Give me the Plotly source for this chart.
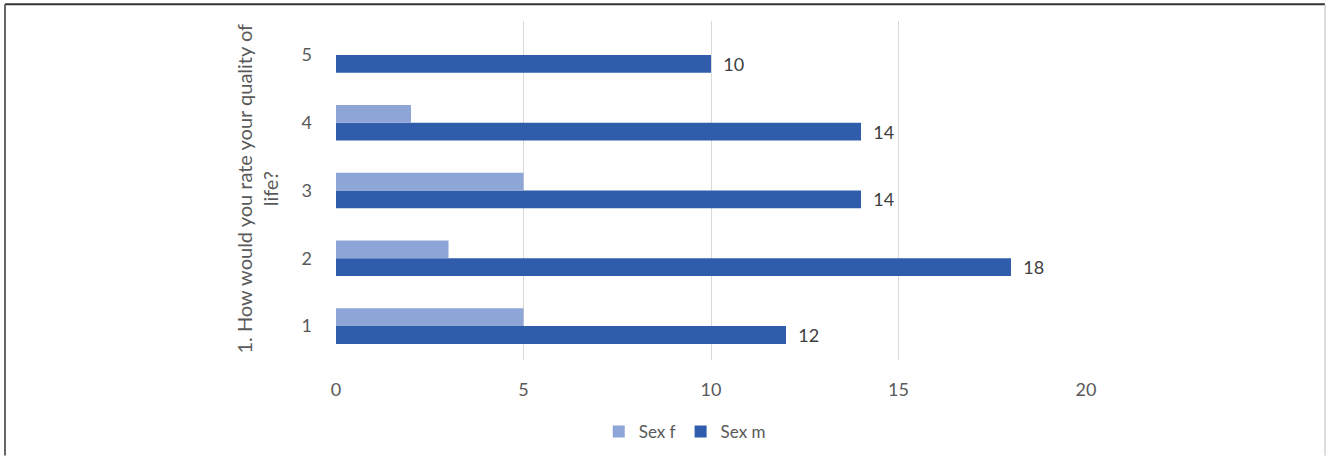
import plotly.graph_objects as go

categories = ["1", "2", "3", "4", "5"]
sex_f = [5, 3, 5, 2, 0]
sex_m = [12, 18, 14, 14, 10]
x_ticks = [0, 5, 10, 15, 20]

color_f = "#8EA6D7"
color_m = "#2F5DAB"
font_family = "Lato, 'Open Sans', sans-serif"
gray = "#595959"

fig = go.Figure()
fig.add_trace(go.Bar(
    y=categories, x=sex_m, name="Sex m", orientation="h",
    marker=dict(color=color_m, line=dict(width=0)),
    text=[f"{v}" for v in sex_m], textposition="outside",
    texttemplate="  %{text}", constraintext="none",
    textfont=dict(size=18, color="#404040", family=font_family),
    cliponaxis=False, legendrank=2,
))
fig.add_trace(go.Bar(
    y=categories, x=[v if v > 0 else None for v in sex_f], name="Sex f", orientation="h",
    marker=dict(color=color_f, line=dict(width=0)),
    legendrank=1,
))

W, H = 1327, 462
L, R, T, B = 336, 241, 21, 97
pw, ph = W - L - R, H - T - B

fig.update_layout(
    width=W, height=H,
    margin=dict(l=L, r=R, t=T, b=B),
    paper_bgcolor="white", plot_bgcolor="white",
    barmode="group", bargap=0.475, bargroupgap=0,
    font=dict(family=font_family, color=gray, size=18),
    showlegend=True,
    legend=dict(orientation="h", x=0.465, xanchor="center", y=-73 / ph, yanchor="middle",
                font=dict(size=17, color=gray), itemwidth=30, tracegroupgap=0,
                bgcolor="rgba(0,0,0,0)"),
    xaxis=dict(range=[0, 20], tickvals=x_ticks, showgrid=True, gridcolor="#D9D9D9",
               gridwidth=1, zeroline=False, showline=False, ticks="",
               tickfont=dict(size=18, color=gray), ticklabelstandoff=17),
    yaxis=dict(type="category", categoryorder="array", categoryarray=categories,
               showgrid=False, zeroline=False, showline=False, ticks="",
               tickfont=dict(size=18, color=gray), ticklabelstandoff=23),
    annotations=[dict(
        text="1. How would you rate your quality of<br>life?",
        xref="paper", yref="paper", x=(257 - L) / pw, y=(365 - 191) / ph,
        xanchor="center", yanchor="middle", textangle=-90, showarrow=False,
        font=dict(size=20, color=gray, family=font_family),
    )],
    shapes=[
        dict(type="line", xref="paper", yref="paper",
             x0=(5 - L) / pw, x1=(1325 - L) / pw, y0=(H - B - 4) / ph, y1=(H - B - 4) / ph,
             line=dict(color="#333333", width=2)),
        dict(type="line", xref="paper", yref="paper",
             x0=(5 - L) / pw, x1=(5 - L) / pw, y0=(H - B - 4) / ph, y1=-B / ph,
             line=dict(color="#666666", width=2)),
        dict(type="line", xref="paper", yref="paper",
             x0=(1325 - L) / pw, x1=(1325 - L) / pw, y0=(H - B - 4) / ph, y1=-B / ph,
             line=dict(color="#BBBBBB", width=1)),
    ],
)

fig.write_html("out.html")
